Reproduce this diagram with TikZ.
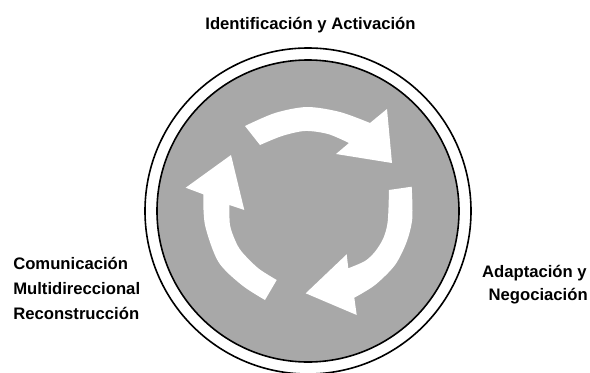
\documentclass[tikz,border=0pt]{standalone}
\usepackage{fontspec}
\setmainfont{Liberation Sans}
\usepackage{tikz}
\definecolor{discgray}{RGB}{168,168,168}

\begin{document}
\begin{tikzpicture}[x=0.75pt, y=-0.75pt,
	lbl/.style={inner sep=0pt, font=\fontsize{12.5}{15}\selectfont\bfseries},
	ring/.style={draw=black, line width=1.2pt},
	turn/.style={fill=white}]
			\useasboundingbox (0,0) rectangle (590,372);
			\coordinate (c) at (308,211);
			
			\draw[ring] (c) circle[radius=122.25pt];
			\draw[ring, fill=discgray] (c) circle[radius=113.25pt];
			
			\fill[turn] (260,145) -- plot[smooth] coordinates {(245,126) (275,113) (307,107) (340,112) (370,123)} -- (387,109) -- (392,163) -- (336,154) -- plot[smooth] coordinates {(349,143) (328,134) (305,131) (282,136) (260,145)} -- cycle;
			\fill[turn] (276.7,280) -- plot[smooth] coordinates {(265,300) (241.7,285) (218.3,261.7) (205,225) (203.3,194.3)} -- (185.7,187.7) -- (231,155) -- (244.3,210) -- plot[smooth] coordinates {(229.3,205) (230,225) (235,240) (241.7,251.7) (258.3,268.3) (276.7,280)} -- cycle;
			\fill[turn] (389,190) -- plot[smooth] coordinates {(411.7,186.7) (412.3,218.3) (406.7,241.7) (395,265) (375,285) (354.3,297.7)} -- (356.7,315) -- (305.7,293.3) -- (346.7,254.3) -- plot[smooth] coordinates {(348.3,268.3) (365,261) (375,251.7) (383.3,238.3) (387.7,221.7) (389,190)} -- cycle;
			
			\node[lbl, anchor=base] (ident) at (310.5,29) {Identificación y Activación};
			\node[lbl, anchor=base west] (comm) at (13,269) {Comunicación};
			\node[lbl, anchor=base west] (multi) at (13,294) {Multidireccional};
			\node[lbl, anchor=base west] (recon) at (13,319) {Reconstrucción};
			\node[lbl, anchor=base east] (adapt) at (587,277) {Adaptación y};
			\node[lbl, anchor=base east] (nego) at (588,300) {Negociación};
			
		\end{tikzpicture}
\end{document}
